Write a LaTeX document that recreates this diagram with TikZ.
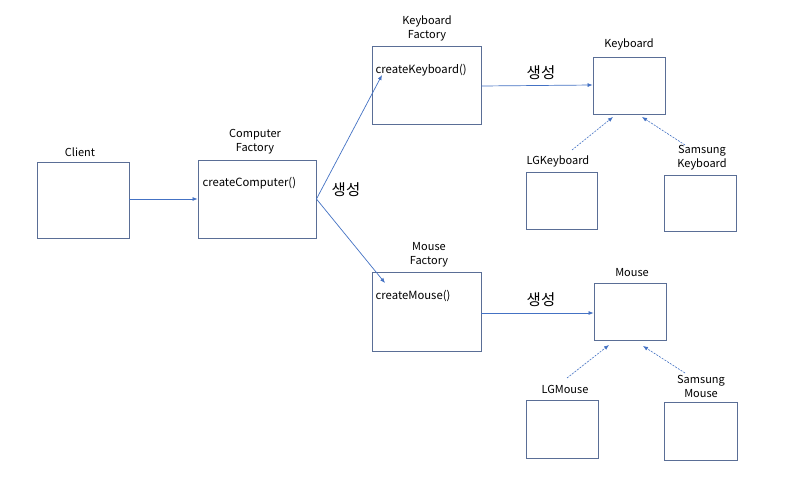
\documentclass[tikz,border=0pt]{standalone}
\usepackage{fontspec}
\setmainfont{Noto Sans CJK KR}
\usetikzlibrary{arrows.meta}
\definecolor{boxline}{HTML}{5A6E96}
\definecolor{arrowblue}{HTML}{4472C4}
\tikzset{
  box/.style={draw=boxline, line width=0.9pt, fill=white, inner sep=0pt},
  lbl/.style={font=\fontsize{11}{14}\selectfont, align=center, inner sep=0pt},
  meth/.style={font=\fontsize{11.3}{12}\selectfont, anchor=west, inner sep=0pt},
  kor/.style={font=\fontsize{15.5}{17}\selectfont, inner sep=0pt},
  conn/.style={draw=arrowblue, line width=0.7pt, -{Latex[length=5pt,width=4pt]}},
  inh/.style={draw=arrowblue, line width=0.6pt, dash pattern=on 2pt off 1.2pt, -{Latex[length=5pt,width=4pt]}}
}
\begin{document}
\begin{tikzpicture}[x=1pt,y=-1pt]
\useasboundingbox[fill=white] (0,0) rectangle (786,493);
% boxes
\node[box, minimum width=92pt, minimum height=76pt] (client) at (83,200) {};
\node[box, minimum width=118pt, minimum height=78pt] (cf) at (257,199) {};
\node[box, minimum width=109pt, minimum height=78pt] (kf) at (426.5,85) {};
\node[box, minimum width=109pt, minimum height=79pt] (mf) at (426.5,311.5) {};
\node[box, minimum width=72pt, minimum height=57pt] (kb) at (629,85.5) {};
\node[box, minimum width=71pt, minimum height=57pt] (lgkb) at (561.5,200.5) {};
\node[box, minimum width=72pt, minimum height=56pt] (sskb) at (700,203) {};
\node[box, minimum width=72pt, minimum height=57pt] (ms) at (630,311.5) {};
\node[box, minimum width=72pt, minimum height=58pt] (lgms) at (562,429) {};
\node[box, minimum width=73pt, minimum height=58pt] (ssms) at (700.5,431) {};
% titles
\node[lbl] (tclient) at (80,152) {Client};
\node[lbl] (tcf) at (255,142) {Computer\\Factory};
\node[lbl] (tkf) at (427,28.5) {Keyboard\\Factory};
\node[lbl] (tmf) at (429,254.5) {Mouse\\Factory};
\node[lbl] (tkb) at (629,44) {Keyboard};
\node[lbl] (tlgkb) at (558,161) {LGKeyboard};
\node[lbl] (tsskb) at (702,157.5) {Samsung\\Keyboard};
\node[lbl] (tms) at (632,273) {Mouse};
\node[lbl] (tlgms) at (565,389) {LGMouse};
\node[lbl] (tssms) at (701,386) {Samsung\\Mouse};
% methods
\node[meth] (mcc) at (202.5,183.5) {createComputer()};
\node[meth] (mck) at (375.5,70.5) {createKeyboard()};
\node[meth] (mcm) at (375.5,295.5) {createMouse()};
% korean labels
\node[kor] (k1) at (346,190) {생성};
\node[kor] (k2) at (541,73) {생성};
\node[kor] (k3) at (541,300) {생성};
% connector endpoints
\coordinate (kfin) at (382,75);
\coordinate (mfin) at (385,283);
\coordinate (lgkbs) at (572,150);
\coordinate (kbl) at (613,117);
\coordinate (sskbs) at (685,145);
\coordinate (kbr) at (642,117);
\coordinate (lgmss) at (567,378);
\coordinate (msl) at (609,345);
\coordinate (ssmss) at (685,373);
\coordinate (msr) at (643,346);
% connectors
\draw[conn] (client.east |- 0,199) -- (cf.west |- 0,199);
\draw[conn] (cf.east) -- (kfin);
\draw[conn] (cf.east) -- (mfin);
\draw[conn] (kf.east |- 0,86) -- (kb.west |- 0,85);
\draw[conn] (mf.east |- 0,313) -- (ms.west |- 0,313);
\draw[inh] (lgkbs) -- (kbl);
\draw[inh] (sskbs) -- (kbr);
\draw[inh] (lgmss) -- (msl);
\draw[inh] (ssmss) -- (msr);
\end{tikzpicture}
\end{document}
